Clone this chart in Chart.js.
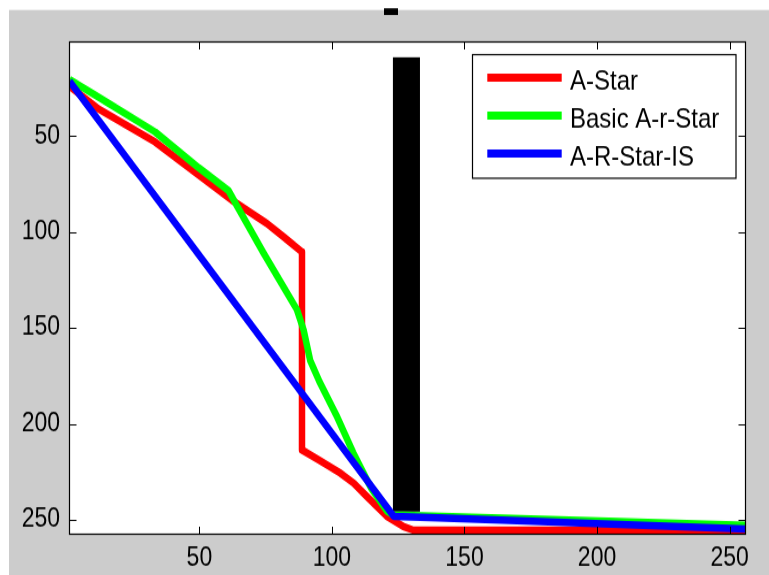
<!DOCTYPE html>
<html>
<head>
<meta charset="utf-8">
<title>Path comparison</title>
<script src="https://cdn.jsdelivr.net/npm/chart.js@4.4.1/dist/chart.umd.min.js"></script>
<style>
  html, body { margin: 0; padding: 0; background: #fff; }
</style>
</head>
<body>
<!-- drawn at 769x500 and shown at 769x575, like the old figure export -->
<canvas id="pathChart" width="769" height="500" style="display:block;width:769px;height:575px"></canvas>
<script>
// Axis ticks
const xTicks = [50, 100, 150, 200, 250];
const yTicks = [50, 100, 150, 200, 250];

// A-Star path (column, row)
const aStarX = [1, 11.9, 33.3, 62.3, 69.8, 75.5, 81.8, 88.7, 88.7, 95, 103.2, 108.2, 113.2, 120.8, 127, 130.7, 256];
const aStarY = [24, 35.8, 53.1, 83.5, 90.4, 95.6, 102.6, 110.4, 213.6, 218.8, 225.7, 230.9, 237.9, 248.3, 253.5, 255.4, 255.4];

// Basic A-r-Star path
const basicX = [1, 11.9, 33.3, 49.7, 61, 64, 74.2, 86.8, 89.3, 91.8, 95.3, 102, 108, 115, 120.8, 123.3, 256];
const basicY = [20.5, 29.7, 47.9, 66.5, 78.5, 86, 111, 140.5, 151, 167, 178, 196.5, 215, 234, 245.5, 247.5, 252.8];

// A-R-Star-IS path
const isX = [1, 123.3, 140, 256];
const isY = [21.5, 248.2, 249, 254.8];

// Obstacle block
const obstacleX = [123, 133.2];
const obstacleY = [9, 245.7];

const seriesNames = ["A-Star", "Basic A-r-Star", "A-R-Star-IS"];
const seriesColors = ["#ff0000", "#00ff00", "#0000ff"];

const FONT = "'Liberation Sans', Arial, sans-serif";

function toPoints(xs, ys) {
  return xs.map((x, i) => ({ x: x, y: ys[i] }));
}

// Figure background, axes face and the obstacle
const backdrop = {
  id: "backdrop",
  beforeDraw(chart) {
    const { ctx, width, height, chartArea: a } = chart;
    ctx.save();
    ctx.fillStyle = "#fff";
    ctx.fillRect(0, 0, width, height);
    ctx.fillStyle = "#cccccc";
    ctx.fillRect(9, 8.7, width - 9, height - 8.7);
    ctx.fillStyle = "#000";
    ctx.fillRect(384, 7.2, 14, 5.8);
    ctx.fillStyle = "#fff";
    ctx.fillRect(a.left, a.top, a.right - a.left, a.bottom - a.top);
    ctx.restore();
  },
  beforeDatasetsDraw(chart) {
    const { ctx, scales: { x, y } } = chart;
    const x0 = x.getPixelForValue(obstacleX[0]);
    const x1 = x.getPixelForValue(obstacleX[1]);
    const y0 = y.getPixelForValue(obstacleY[0]);
    const y1 = y.getPixelForValue(obstacleY[1]);
    ctx.save();
    ctx.fillStyle = "#000";
    ctx.fillRect(x0, y0, x1 - x0, y1 - y0);
    ctx.restore();
  }
};

// Axes box with inward ticks, and the boxed legend
const frame = {
  id: "frame",
  afterDatasetsDraw(chart) {
    const { ctx, chartArea: a, scales: { x, y } } = chart;
    ctx.save();
    ctx.strokeStyle = "#000";
    ctx.lineWidth = 1.2;
    ctx.strokeRect(a.left, a.top, a.right - a.left, a.bottom - a.top);

    ctx.beginPath();
    xTicks.forEach(v => {
      const px = Math.round(x.getPixelForValue(v)) + 0.5;
      ctx.moveTo(px, a.bottom); ctx.lineTo(px, a.bottom - 6.5);
      ctx.moveTo(px, a.top); ctx.lineTo(px, a.top + 6.5);
    });
    yTicks.forEach(v => {
      const py = Math.round(y.getPixelForValue(v)) + 0.5;
      ctx.moveTo(a.left, py); ctx.lineTo(a.left + 7, py);
      ctx.moveTo(a.right, py); ctx.lineTo(a.right - 7, py);
    });
    ctx.lineWidth = 1;
    ctx.stroke();

    // legend
    ctx.fillStyle = "#fff";
    ctx.fillRect(472.5, 47.5, 263.5, 107.5);
    ctx.lineWidth = 1.2;
    ctx.strokeRect(472.5, 47.5, 263.5, 107.5);
    ctx.font = "24px " + FONT;
    ctx.textBaseline = "alphabetic";
    ctx.textAlign = "left";
    chart.data.datasets.forEach((ds, i) => {
      const rowY = 67.5 + i * 33;
      ctx.beginPath();
      ctx.moveTo(487.3, rowY);
      ctx.lineTo(561.7, rowY);
      ctx.strokeStyle = ds.borderColor;
      ctx.lineWidth = 7;
      ctx.stroke();
      ctx.fillStyle = "#000";
      ctx.fillText(ds.label, 570, rowY + 10);
    });
    ctx.restore();
  }
};

const tickFont = { family: FONT, size: 23 };

new Chart(document.getElementById("pathChart"), {
  type: "line",
  data: {
    datasets: [
      { label: seriesNames[0], data: toPoints(aStarX, aStarY), borderColor: seriesColors[0], order: 3 },
      { label: seriesNames[1], data: toPoints(basicX, basicY), borderColor: seriesColors[1], order: 2 },
      { label: seriesNames[2], data: toPoints(isX, isY), borderColor: seriesColors[2], order: 1 }
    ]
  },
  options: {
    responsive: false,
    animation: false,
    layout: { padding: { top: 36.5, right: 23.5, bottom: 0, left: 0 } },
    elements: {
      point: { radius: 0 },
      line: { tension: 0, borderWidth: 6.5, borderJoinStyle: "round", borderCapStyle: "butt", fill: false }
    },
    datasets: { line: { clip: 0 } },
    plugins: { legend: { display: false }, tooltip: { enabled: false } },
    scales: {
      x: {
        type: "linear",
        min: 1,
        max: 256,
        grid: { display: false, drawTicks: false },
        border: { display: false },
        ticks: { padding: 7, font: tickFont, color: "#000", maxRotation: 0 },
        afterBuildTicks: s => { s.ticks = xTicks.map(v => ({ value: v })); },
        afterFit: s => { s.height = 35.5; }
      },
      y: {
        type: "linear",
        reverse: true,
        min: 1,
        max: 257.5,
        grid: { display: false, drawTicks: false },
        border: { display: false },
        ticks: { padding: 9.5, font: tickFont, color: "#000" },
        afterBuildTicks: s => { s.ticks = yTicks.map(v => ({ value: v })); },
        afterFit: s => { s.width = 69.5; }
      }
    }
  },
  plugins: [backdrop, frame]
});
</script>
</body>
</html>
